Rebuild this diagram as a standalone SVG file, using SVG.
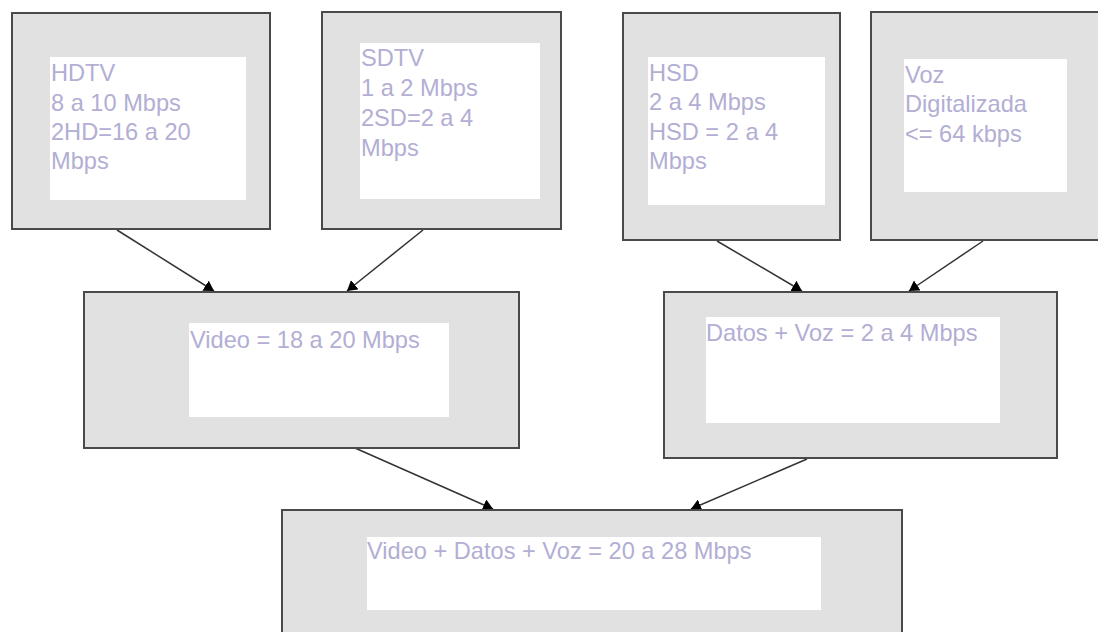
<svg xmlns="http://www.w3.org/2000/svg" width="1098" height="632" viewBox="0 0 1098 632">
<style>
.box{fill:#e1e1e1;stroke:#4a4a4a;stroke-width:2}
.inner{fill:#ffffff}
.lbl{font-family:"Liberation Sans",Arial,sans-serif;font-size:23.6px;fill:#b2aed4}
.edge{stroke:#333;stroke-width:1.5;fill:none;marker-end:url(#ah)}
</style>
<defs>
<marker id="ah" viewBox="0 0 10 12" refX="10" refY="6" markerWidth="10" markerHeight="12" markerUnits="userSpaceOnUse" orient="auto">
<path d="M0,0 L10,6 L0,12 z" fill="#000"/>
</marker>
</defs>
<rect width="1098" height="632" fill="#ffffff"/>
<g id="connectors">
<line class="edge" x1="117" y1="230" x2="214" y2="291"/>
<line class="edge" x1="423" y1="230" x2="347" y2="291"/>
<line class="edge" x1="717" y1="241" x2="802" y2="291"/>
<line class="edge" x1="983" y1="241" x2="909" y2="291"/>
<line class="edge" x1="355" y1="448" x2="493" y2="509"/>
<line class="edge" x1="807" y1="459" x2="691" y2="509"/>
</g>
<g id="hdtv">
<rect class="box" x="12" y="13" width="258" height="216"/>
<rect class="inner" x="50" y="57" width="196" height="143"/>
<text class="lbl" x="51" y="81">HDTV</text>
<text class="lbl" x="51" y="111">8 a 10 Mbps</text>
<text class="lbl" x="51" y="140">2HD=16 a 20</text>
<text class="lbl" x="51" y="169">Mbps</text>
</g>
<g id="sdtv">
<rect class="box" x="322" y="12" width="239" height="217"/>
<rect class="inner" x="360" y="43" width="180" height="156"/>
<text class="lbl" x="361" y="66">SDTV</text>
<text class="lbl" x="361" y="96">1 a 2 Mbps</text>
<text class="lbl" x="361" y="126">2SD=2 a 4</text>
<text class="lbl" x="361" y="156">Mbps</text>
</g>
<g id="hsd">
<rect class="box" x="623" y="13" width="217" height="227"/>
<rect class="inner" x="648" y="57" width="177" height="148"/>
<text class="lbl" x="649" y="81">HSD</text>
<text class="lbl" x="649" y="110">2 a 4 Mbps</text>
<text class="lbl" x="649" y="140">HSD = 2 a 4</text>
<text class="lbl" x="649" y="169">Mbps</text>
</g>
<g id="voz">
<rect class="box" x="871" y="12" width="240" height="228"/>
<rect class="inner" x="904" y="59" width="163" height="133"/>
<text class="lbl" x="905" y="83">Voz</text>
<text class="lbl" x="905" y="112">Digitalizada</text>
<text class="lbl" x="905" y="142">&lt;= 64 kbps</text>
</g>
<g id="video">
<rect class="box" x="84" y="292" width="435" height="156"/>
<rect class="inner" x="189" y="323" width="260" height="94"/>
<text class="lbl" x="190" y="348">Video = 18 a 20 Mbps</text>
</g>
<g id="datos">
<rect class="box" x="664" y="292" width="393" height="166"/>
<rect class="inner" x="706" y="317" width="294" height="106"/>
<text class="lbl" x="706" y="341">Datos + Voz = 2 a 4 Mbps</text>
</g>
<g id="total">
<rect class="box" x="282" y="510" width="620" height="140"/>
<rect class="inner" x="367" y="537" width="454" height="73"/>
<text class="lbl" x="367" y="559">Video + Datos + Voz = 20 a 28 Mbps</text>
</g>
</svg>
